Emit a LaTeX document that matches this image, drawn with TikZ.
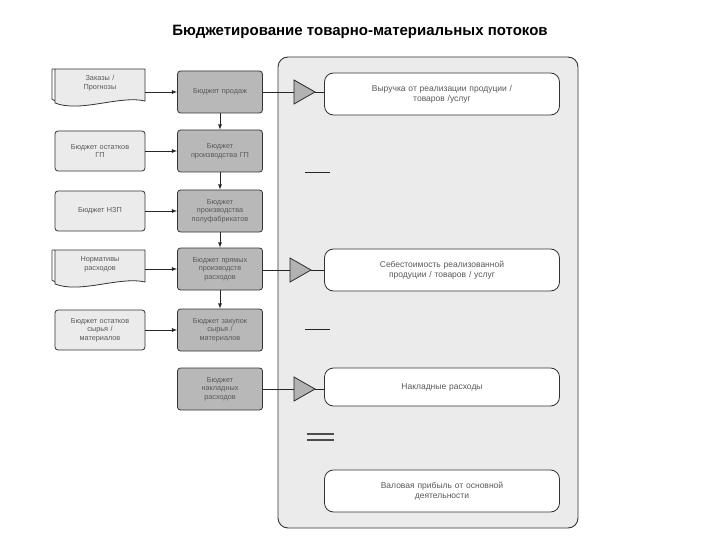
\documentclass[tikz,border=0pt]{standalone}
\usepackage{fontspec}
\setmainfont{Liberation Sans}
\begin{document}
\begin{tikzpicture}[x=1pt,y=-1pt,
 box/.style={draw=black!80,rounded corners=3pt,line width=0.8pt,align=center,font=\fontsize{7.3}{8.5}\selectfont,text=black!65,inner sep=1pt},
 lbox/.style={box,fill=black!8,minimum width=90pt,minimum height=40pt,text width=86pt},
 mbox/.style={box,fill=black!28,minimum width=85pt,minimum height=42pt,text width=82pt},
 rbox/.style={box,fill=white,rounded corners=9pt,minimum width=235pt,minimum height=42pt,text width=210pt,font=\fontsize{8.5}{10}\selectfont},
 tri/.style={draw=black!85,fill=black!30,line width=0.8pt},
 con/.style={draw=black!85,line width=0.8pt,-latex}]
\useasboundingbox (0,0) rectangle (720,540);
\node[font=\bfseries\fontsize{15}{17}\selectfont] (title) at (360,32) {Бюджетирование товарно-материальных потоков};
\node[draw=black!80,line width=0.9pt,fill=black!8,rounded corners=10pt,minimum width=300pt,minimum height=471pt] (panel) at (428,292.5) {};
% documents
\foreach \n/\y/\t in {d1/87/{Заказы /\\Прогнозы},d4/268/{Нормативы\\расходов}}{
 \fill[black!8] (55,\y-18)--(145,\y-18)--(145,\y+14) .. controls (120,\y+8) and (80,\y+26) .. (55,\y+16)--cycle;
 \draw[black!80,line width=0.8pt] (52,\y-18)--(145,\y-18)--(145,\y+14) .. controls (120,\y+8) and (80,\y+26) .. (55,\y+16)--(55,\y-18);
 \draw[black!80,line width=0.8pt] (52,\y-18)--(52,\y+12) .. controls (53,\y+13) .. (55,\y+14);
 \node[box,draw=none,text width=80pt] (\n) at (100,\y-4) {\t};
}
\node[lbox] (d2) at (100,151) {Бюджет остатков\\ГП};
\node[lbox] (d3) at (100,211) {Бюджет НЗП};
\node[lbox] (d5) at (100,330) {Бюджет остатков\\сырья /\\материалов};
\node[mbox] (m1) at (220,92) {Бюджет продаж};
\node[mbox] (m2) at (220,151) {Бюджет\\производства ГП};
\node[mbox] (m3) at (220,211) {Бюджет\\производства\\полуфабрикатов};
\node[mbox] (m4) at (220,269) {Бюджет прямых\\производств\\расходов};
\node[mbox] (m5) at (220,330) {Бюджет закупок\\сырья /\\материалов};
\node[mbox] (m6) at (220,389) {Бюджет\\накладных\\расходов};
\draw[con] (145,92) -- (m1.west);
\foreach \a in {2,3,5}{\draw[con] (d\a.east) -- (m\a.west);}
\draw[con] (145,269) -- (m4.west);
\foreach \a/\b in {1/2,2/3,3/4,4/5}{\draw[con] (m\a.south) -- (m\b.north);}
\node[rbox] (r1) at (442,94) {Выручка от реализации продуции /\\товаров /услуг};
\node[rbox] (r2) at (442,270) {Себестоимость реализованной\\продуции / товаров / услуг};
\node[rbox,minimum height=38pt] (r3) at (442,387) {Накладные расходы};
\node[rbox] (r4) at (442,491) {Валовая прибыль от основной\\деятельности};
\foreach \m/\r/\y/\x in {m1/r1/92/294,m4/r2/270/290,m6/r3/389/294}{
 \draw[black!85,line width=0.8pt] (\m.east|-0,\y) -- (\x,\y);
 \draw[tri] (\x,\y-12) -- (\x+21,\y) -- (\x,\y+12) -- cycle;
 \draw[black!85,line width=0.8pt] (\x+21,\y) -- (\r.west|-0,\y);
}
\draw[black!85,line width=0.8pt] (305,172) -- (330,172);
\draw[black!85,line width=0.8pt] (305,329) -- (330,329);
\draw[black!70,line width=1.2pt] (307,434) -- (334,434) (307,440) -- (334,440);
\end{tikzpicture}
\end{document}
